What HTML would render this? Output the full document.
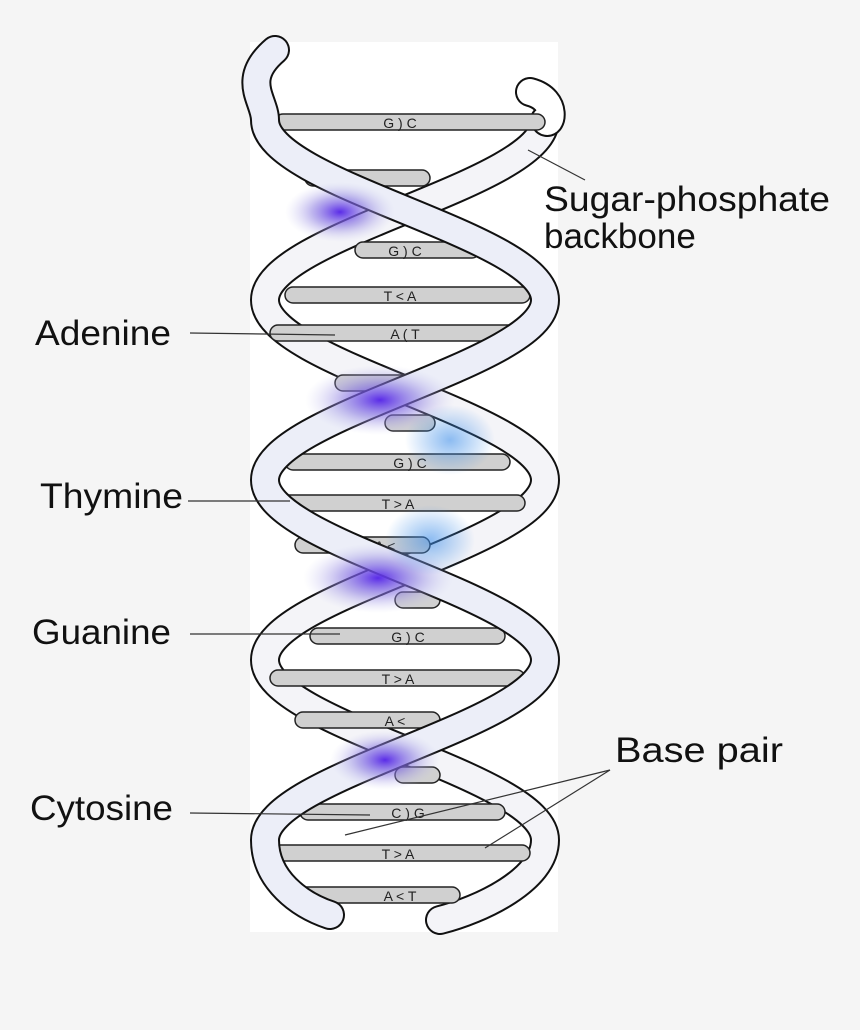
<!DOCTYPE html>
<html><head><meta charset="utf-8"><style>
html,body{margin:0;padding:0;background:#f5f5f5;}
svg{display:block;}
text{font-family:"Liberation Sans",sans-serif;}
</style></head><body>
<svg width="860" height="1030" viewBox="0 0 860 1030" xmlns="http://www.w3.org/2000/svg">
<defs>
<radialGradient id="blob" cx="50%" cy="50%" r="50%">
<stop offset="0" stop-color="#5a2be8" stop-opacity="1"/>
<stop offset="0.5" stop-color="#8877e0" stop-opacity="0.55"/>
<stop offset="1" stop-color="#c8c8ee" stop-opacity="0"/>
</radialGradient>
<radialGradient id="lb" cx="50%" cy="50%" r="50%">
<stop offset="0" stop-color="#3f8ee8" stop-opacity="0.6"/>
<stop offset="1" stop-color="#3f8ee8" stop-opacity="0"/>
</radialGradient>
</defs>
<rect x="0" y="0" width="860" height="1030" fill="#f5f5f5"/>
<rect x="250" y="42" width="308" height="890" fill="#ffffff"/>

<g fill="none" stroke-linecap="round">
<path d="M545 120 C545 185 265 235 265 300 C265 365 545 415 545 480 C545 545 265 595 265 660 C265 725 545 775 545 840 C545 880 480 910 440 920" stroke="#111" stroke-width="30"/>
<path d="M545 120 C545 185 265 235 265 300 C265 365 545 415 545 480 C545 545 265 595 265 660 C265 725 545 775 545 840 C545 880 480 910 440 920" stroke="#f4f4f8" stroke-width="26"/>
<path d="M530 92 C560 100 550 130 545 120" stroke="#111" stroke-width="30"/>
<path d="M530 92 C560 100 550 130 545 120" stroke="#fff" stroke-width="26"/>
</g>

<g stroke="#222" stroke-width="1.5" fill="#d0d0d0">
<rect x="275" y="114" width="270" height="16" rx="8"/>
<rect x="305" y="170" width="125" height="16" rx="8"/>
<rect x="355" y="242" width="125" height="16" rx="8"/>
<rect x="285" y="287" width="245" height="16" rx="8"/>
<rect x="270" y="325" width="250" height="16" rx="8"/>
<rect x="335" y="375" width="105" height="16" rx="8"/>
<rect x="385" y="415" width="50" height="16" rx="8"/>
<rect x="285" y="454" width="225" height="16" rx="8"/>
<rect x="270" y="495" width="255" height="16" rx="8"/>
<rect x="295" y="537" width="135" height="16" rx="8"/>
<rect x="395" y="592" width="45" height="16" rx="8"/>
<rect x="310" y="628" width="195" height="16" rx="8"/>
<rect x="270" y="670" width="255" height="16" rx="8"/>
<rect x="295" y="712" width="145" height="16" rx="8"/>
<rect x="395" y="767" width="45" height="16" rx="8"/>
<rect x="300" y="804" width="205" height="16" rx="8"/>
<rect x="270" y="845" width="260" height="16" rx="8"/>
<rect x="295" y="887" width="165" height="16" rx="8"/>
</g>
<g font-size="14" fill="#222" text-anchor="middle">
<text x="400" y="128">G ) C</text>
<text x="405" y="256">G ) C</text>
<text x="400" y="301">T &lt; A</text>
<text x="405" y="339">A ( T</text>
<text x="410" y="468">G ) C</text>
<text x="398" y="509">T &gt; A</text>
<text x="385" y="551">A &lt;</text>
<text x="408" y="642">G ) C</text>
<text x="398" y="684">T &gt; A</text>
<text x="395" y="726">A &lt;</text>
<text x="408" y="818">C ) G</text>
<text x="398" y="859">T &gt; A</text>
<text x="400" y="901">A &lt; T</text>
</g>

<g fill="none" stroke-linecap="round">
<path d="M275 50 C240 80 265 100 265 120 C265 185 545 235 545 300 C545 365 265 415 265 480 C265 545 545 595 545 660 C545 725 265 775 265 840 C265 880 300 905 330 915" stroke="#111" stroke-width="30"/>
<path d="M275 50 C240 80 265 100 265 120 C265 185 545 235 545 300 C545 365 265 415 265 480 C265 545 545 595 545 660 C545 725 265 775 265 840 C265 880 300 905 330 915" stroke="#eceef8" stroke-width="26"/>
</g>
<g>
<ellipse cx="340" cy="212" rx="55" ry="30" fill="url(#blob)"/>
<ellipse cx="380" cy="400" rx="75" ry="35" fill="url(#blob)"/>
<ellipse cx="450" cy="440" rx="45" ry="35" fill="url(#lb)"/>
<ellipse cx="378" cy="578" rx="75" ry="35" fill="url(#blob)"/>
<ellipse cx="430" cy="540" rx="45" ry="35" fill="url(#lb)"/>
<ellipse cx="385" cy="760" rx="55" ry="30" fill="url(#blob)"/>
</g>

<g stroke="#333" stroke-width="1.2">
<line x1="190" y1="333" x2="335" y2="335"/>
<line x1="188" y1="501" x2="290" y2="501"/>
<line x1="190" y1="634" x2="340" y2="634"/>
<line x1="190" y1="813" x2="370" y2="815"/>
<line x1="610" y1="770" x2="345" y2="835"/>
<line x1="610" y1="770" x2="485" y2="848"/>
<line x1="528" y1="150" x2="585" y2="180"/>
</g>
<g font-size="35" fill="#111">
<text x="544" y="211" textLength="286" lengthAdjust="spacingAndGlyphs">Sugar-phosphate</text>
<text x="544" y="248">backbone</text>
<text x="35" y="345" textLength="136" lengthAdjust="spacingAndGlyphs">Adenine</text>
<text x="40" y="508" textLength="143" lengthAdjust="spacingAndGlyphs">Thymine</text>
<text x="32" y="644" textLength="139" lengthAdjust="spacingAndGlyphs">Guanine</text>
<text x="30" y="820" textLength="143" lengthAdjust="spacingAndGlyphs">Cytosine</text>
<text x="615" y="762" textLength="168" lengthAdjust="spacingAndGlyphs">Base  pair</text>
</g>
</svg>
</body></html>
